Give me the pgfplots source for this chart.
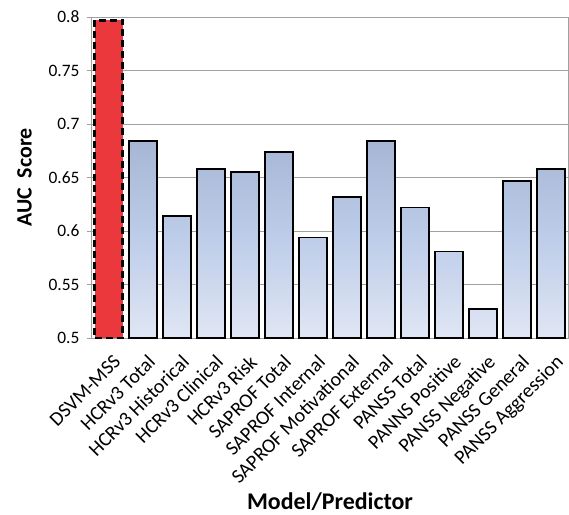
\documentclass[border=0pt]{standalone}
\usepackage{pgfplots}
\pgfplotsset{compat=1.18}
\usepackage{fontspec}
\setmainfont{Carlito}
\definecolor{redbar}{RGB}{234,56,60}
\definecolor{bartop}{RGB}{166,182,212}
\definecolor{barmid}{RGB}{190,205,233}
\definecolor{barbot}{RGB}{224,230,244}
\definecolor{axgray}{RGB}{160,160,160}
\begin{document}
\begin{tikzpicture}
\begin{axis}[
  scale only axis,
  width=476bp, height=321bp,
  xmin=-0.5, xmax=13.5,
  ymin=0.5, ymax=0.8,
  ytick={0.5,0.55,0.6,0.65,0.7,0.75,0.8},
  yticklabel style={/pgf/number format/fixed, /pgf/number format/precision=2},
  /pgf/number format/assume math mode=true,
  ymajorgrids,
  grid style={axgray, line width=1bp},
  axis line style={axgray, line width=1bp},
  tick style={axgray, line width=1bp},
  ytick align=outside, major tick length=5bp,
  xtick={0,...,13},
  xtick style={draw=none},
  minor xtick={-0.5,0.5,...,13.5},
  minor tick length=5bp,
  xtick align=outside,
  minor x tick style={axgray, line width=1bp},
  xticklabels={DSVM-MSS,HCRv3 Total,HCRv3 Historical,HCRv3 Clinical,HCRv3 Risk,SAPROF Total,SAPROF Internal,SAPROF Motivational,SAPROF External,PANSS Total,PANNS Positive,PANSS Negative,PANSS General,PANSS Aggression},
  xticklabel style={rotate=45, anchor=north east, font=\fontsize{20}{22}\selectfont, inner sep=0pt, xshift=-5bp, yshift=-10bp},
  yticklabel style={font=\fontsize{17.5}{20}\selectfont, xshift=-4bp},
  xlabel={\textbf{Model/Predictor}},
  ylabel={\textbf{AUC\ \ Score}},
  xlabel style={font=\fontsize{24}{26}\selectfont, yshift=-4bp},
  ylabel style={font=\fontsize{22}{24}\selectfont, yshift=10bp},
  ybar, bar width=28bp, bar shift=0pt,
]
\addplot[fill=redbar, draw=black, line width=3bp, dash pattern=on 7bp off 4bp] coordinates {(0,0.797)};
\addplot[draw=black, line width=1.6bp, top color=bartop, bottom color=barbot, middle color=barmid] coordinates {
(1,0.684) (2,0.614) (3,0.658) (4,0.655) (5,0.674) (6,0.594) (7,0.632) (8,0.684) (9,0.622) (10,0.581) (11,0.527) (12,0.647) (13,0.658)};
\coordinate (tl) at (rel axis cs:0,1);
\coordinate (br) at (rel axis cs:1,0);
\end{axis}
\pgfresetboundingbox
\path[use as bounding box] ([shift={(-92bp,17bp)}]tl) rectangle ([shift={(1bp,-177bp)}]br);
\end{tikzpicture}
\end{document}
